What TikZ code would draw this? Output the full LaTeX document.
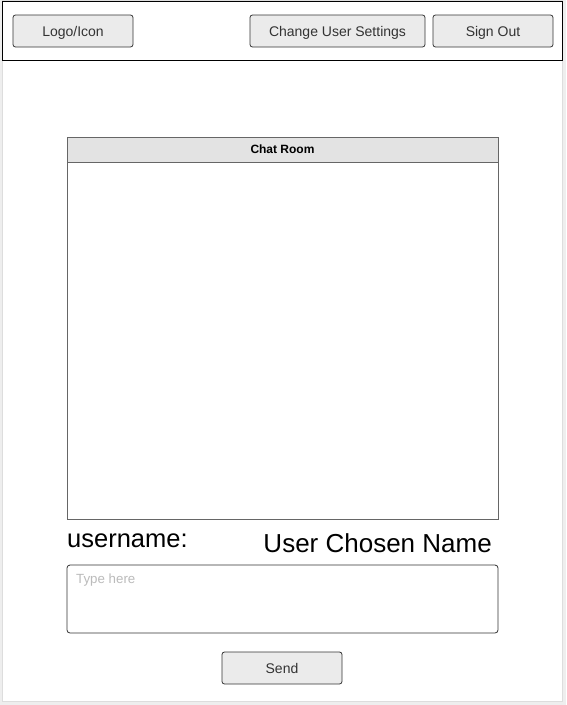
\documentclass[tikz,border=0pt]{standalone}
\usepackage{fontspec}
\setmainfont{Liberation Sans}
\definecolor{bgc}{HTML}{EEEEEE}
\definecolor{pageline}{HTML}{DDDDDD}
\definecolor{btnfill}{HTML}{EBEBEB}
\definecolor{btnline}{HTML}{333333}
\definecolor{btntext}{HTML}{333333}
\definecolor{headfill}{HTML}{E3E3E3}
\definecolor{roomline}{HTML}{666666}
\definecolor{hint}{HTML}{BBBBBB}
\tikzset{
  btn/.style={draw=btnline, fill=btnfill, rounded corners=2.5pt, line width=0.8pt,
    minimum height=32pt, inner sep=0pt, text=btntext, text height=12pt, text depth=1.4pt,
    font=\fontsize{14pt}{16pt}\selectfont},
  bigtext/.style={inner sep=0pt, font=\fontsize{26pt}{30pt}\selectfont},
}
\begin{document}
\begin{tikzpicture}[x=1pt,y=-1pt]
\useasboundingbox (0,0) rectangle (566,705);
\fill[bgc] (0,0) rectangle (566,705);
\draw[pageline, fill=white, line width=1pt] (2,0) rectangle (562,701);
% header bar
\draw[black, line width=1pt] (2,1) rectangle (562,60);
\node[btn, minimum width=120pt] (logo) at (73,31) {Logo/Icon};
\node[btn, minimum width=175pt] (settings) at (337.5,31) {Change User Settings};
\node[btn, minimum width=120pt] (signout) at (493,31) {Sign Out};
% chat room
\node[draw=roomline, line width=1pt, minimum width=431pt, minimum height=382pt, inner sep=0pt] (chat) at (282.5,328) {};
\node[draw=roomline, fill=headfill, line width=1pt, minimum width=431pt, minimum height=25pt, inner sep=0pt,
  font=\fontsize{12pt}{14pt}\selectfont\bfseries] (chathead) at (282.5,149.5) {Chat Room};
% labels
\node[bigtext, anchor=base west, font=\fontsize{25.5pt}{30pt}\selectfont] (uname) at (67,547) {username:};
\node[bigtext, anchor=base east] (chosen) at (492,552) {User Chosen Name};
% input box
\node[draw=btnline, line width=0.8pt, rounded corners=3pt, minimum width=431pt, minimum height=68pt, inner sep=0pt] (input) at (282.5,599) {};
\node[inner sep=0pt, anchor=base west, text=hint, font=\fontsize{13.3pt}{15pt}\selectfont] (typehere) at (76,583.5) {Type here};
% send button
\node[btn, minimum width=120pt] (send) at (282,668) {Send};
\end{tikzpicture}
\end{document}
